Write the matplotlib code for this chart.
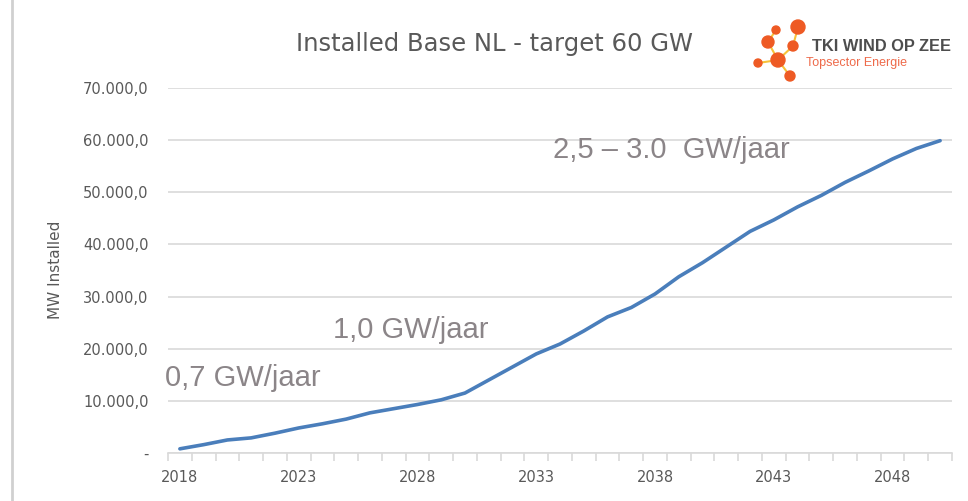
import numpy as np
import matplotlib
matplotlib.use("Agg")
import matplotlib.pyplot as plt
from matplotlib.ticker import FuncFormatter, FixedLocator

# data (MW installed per year)
years = list(range(2018, 2051))
installed = [800, 1600, 2500, 2900, 3800, 4800, 5600, 6500, 7700, 8500,
             9300, 10200, 11500, 14000, 16500, 19000, 20900, 23400, 26100, 27900,
             30500, 33800, 36500, 39500, 42500, 44700, 47200, 49400, 51900, 54100,
             56400, 58400, 59900]
label_years = [2018, 2023, 2028, 2033, 2038, 2043, 2048]
notes = ["0,7 GW/jaar", "1,0 GW/jaar", "2,5 \u2013 3.0  GW/jaar"]

W, H = 968, 501
fig = plt.figure(figsize=(W / 100, H / 100), dpi=100, facecolor='white')

def px(x0, y0, x1, y1):
    return [x0 / W, 1 - y1 / H, (x1 - x0) / W, (y1 - y0) / H]

ax = fig.add_axes(px(168, 88, 952, 453))
x = np.arange(len(years))
ax.plot(x, installed, color='#4a7ebb', linewidth=2.6, solid_capstyle='round')

ax.set_xlim(-0.5, len(years) - 0.5)
ax.set_ylim(0, 70000)
ax.set_yticks(np.arange(0, 70001, 10000))
def fmt(v, pos):
    if v == 0:
        return '-'
    s = f"{int(v):,}".replace(',', '.')
    return s + ',0'
ax.yaxis.set_major_formatter(FuncFormatter(fmt))
ax.grid(axis='y', color='#d9d9d9', linewidth=1.2)
ax.set_axisbelow(True)

ax.set_xticks([years.index(y) for y in label_years])
ax.set_xticklabels([str(y) for y in label_years])
ax.xaxis.set_minor_locator(FixedLocator(np.arange(-0.5, len(years), 1)))
ax.tick_params(axis='x', which='major', length=0, pad=12, labelsize=10.5, labelcolor='#595959')
ax.tick_params(axis='x', which='minor', length=6, color='#d9d9d9', width=1.2)
ax.tick_params(axis='y', length=0, pad=14, labelsize=10.5, labelcolor='#595959')
for s in ['top', 'right', 'left']:
    ax.spines[s].set_visible(False)
ax.spines['bottom'].set_color('#d9d9d9')
ax.spines['bottom'].set_linewidth(1.2)

fig.text(55 / W, 1 - 270 / H, 'MW Installed', rotation=90, ha='center', va='center',
         fontsize=11, color='#595959')
fig.text(494 / W, 1 - 44 / H, 'Installed Base NL - target 60 GW', ha='center', va='center',
         fontsize=17.5, color='#595959')

note_font = dict(family='Liberation Sans', fontsize=21, color='#8b8588', va='center', ha='left')
fig.text(165 / W, 1 - 378 / H, notes[0], **note_font)
fig.text(333 / W, 1 - 330 / H, notes[1], **note_font)
fig.text(553 / W, 1 - 150 / H, notes[2], **note_font)

# left border
fig.add_artist(plt.Line2D([12 / W, 12 / W], [0, 1], color='#d0d0d0', linewidth=2))

# logo
lg = fig.add_axes([0, 0, 1, 1], facecolor='none')
lg.set_xlim(0, W)
lg.set_ylim(H, 0)
lg.axis('off')
nodes = [(798, 27, 7), (776, 30, 4), (768, 42, 6), (793, 46, 5), (778, 60, 7), (758, 63, 4), (790, 76, 5)]
links = [(0, 3), (1, 2), (2, 4), (3, 4), (4, 5), (4, 6)]
for a, b in links:
    lg.plot([nodes[a][0], nodes[b][0]], [nodes[a][1], nodes[b][1]], color='#f7c23a', linewidth=1.5, zorder=1)
for cx, cy, r in nodes:
    lg.add_patch(plt.Circle((cx, cy), r, color='#ee5a24', zorder=2))
lg.text(812, 46, 'TKI WIND OP ZEE', fontsize=11.8, fontweight='bold', color='#4d4d4d',
        va='center', ha='left', family='Liberation Sans')
lg.text(806, 63, 'Topsector Energie', fontsize=9, color='#ee6a4a', va='center', ha='left',
        family='Liberation Sans')

fig.savefig('out.png', dpi=100, facecolor='white')
